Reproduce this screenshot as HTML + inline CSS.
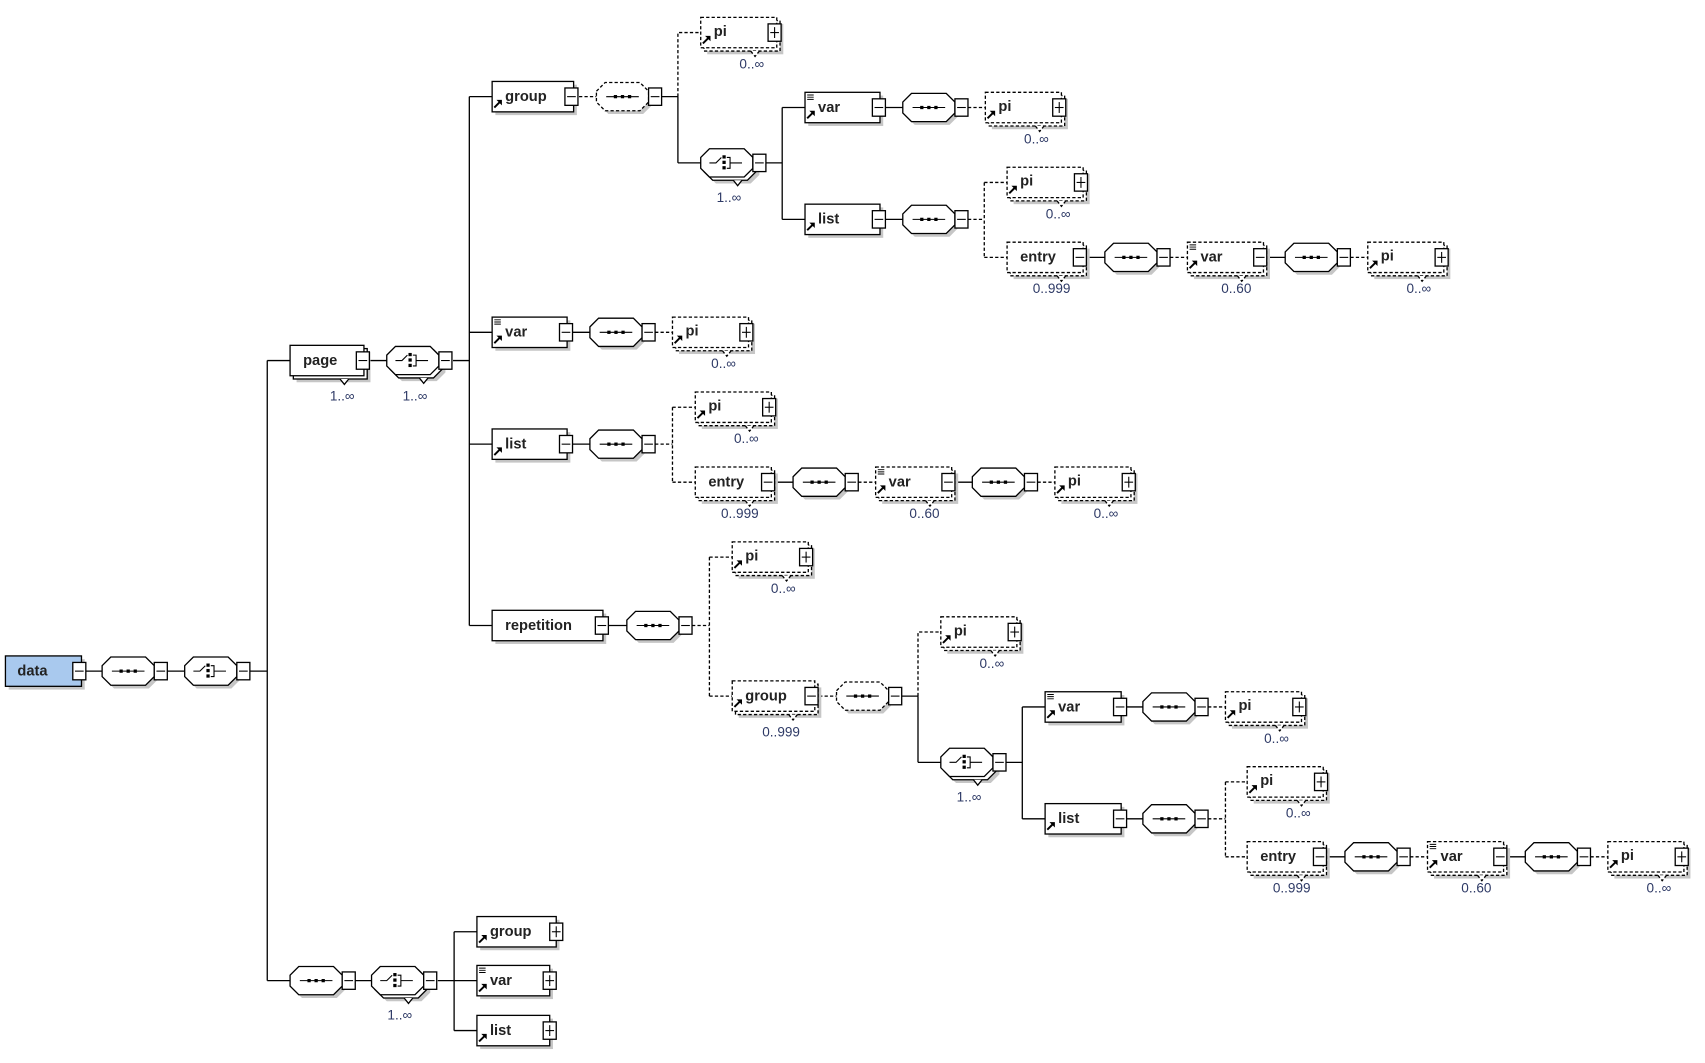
<!DOCTYPE html>
<html><head><meta charset="utf-8"><style>
html,body{margin:0;padding:0;background:#fff}
svg{display:block}
.s{fill:#fff;stroke:#000;stroke-width:1.2}
.d{fill:#fff;stroke:#000;stroke-width:1.2;stroke-dasharray:3 2}
.sh{fill:#c6c6c6}
.l{stroke:#000;stroke-width:1.2;fill:none}
.ld{stroke:#000;stroke-width:1.2;fill:none;stroke-dasharray:3 2}
.t{font-family:"Liberation Sans",sans-serif;font-weight:bold;font-size:13.5px;fill:#222}
.m{font-family:"Liberation Sans",sans-serif;font-size:12.5px;fill:#2e3a66;text-anchor:middle}
</style></head><body>
<svg width="1705" height="1063" viewBox="0 0 1560 972" preserveAspectRatio="none" xmlns="http://www.w3.org/2000/svg">
<defs>
<g id="mn"><rect class="s" width="12" height="16" stroke-width="1"/><line x1="2" y1="8" x2="10" y2="8" stroke="#000"/></g>
<g id="pl"><rect class="s" width="12" height="16" stroke-width="1"/><line x1="2" y1="8" x2="10" y2="8" stroke="#000"/><line x1="6" y1="3" x2="6" y2="13" stroke="#000"/></g>
<g id="ar"><path d="M0,8 L5,3" stroke="#000" stroke-width="1.8"/><path d="M2,1 L7,1 L7,6Z" fill="#000"/></g>
<g id="eq"><path d="M0,0.5h6M0,2.5h6M0,4.5h6" stroke="#000" stroke-width="0.9"/></g>
<g id="oct"><polygon class="sh" points="3,-2 11,-10 43,-10 51,-2 51,8 43,16 11,16 3,8"/><polygon class="s" points="0,-5 8,-13 40,-13 48,-5 48,5 40,13 8,13 0,5"/></g>
<g id="octd"><polygon class="sh" points="3,-2 11,-10 43,-10 51,-2 51,8 43,16 11,16 3,8"/><polygon class="d" points="0,-5 8,-13 40,-13 48,-5 48,5 40,13 8,13 0,5"/></g>
<g id="dots"><line x1="9" y1="0" x2="39" y2="0" stroke="#000"/><rect x="16" y="-1.5" width="3" height="3"/><rect x="22.5" y="-1.5" width="3" height="3"/><rect x="29" y="-1.5" width="3" height="3"/></g>
<g id="sq"><use href="#oct"/><use href="#dots"/><use href="#mn" x="48" y="-8"/></g>
<g id="sqd"><use href="#octd"/><use href="#dots"/><use href="#mn" x="48" y="-8"/></g>
<g id="chi"><path d="M8,0h6l5,-5M27,0h11M24,-5h3v10h-3" stroke="#000" fill="none"/><rect x="20" y="-7" width="3" height="3"/><rect x="20" y="-2" width="3" height="3"/><rect x="20" y="3" width="3" height="3"/></g>
<g id="ch"><use href="#oct"/><use href="#chi"/><use href="#mn" x="48" y="-8"/></g>
<g id="chm"><polygon class="sh" points="6,1 14,-7 46,-7 54,1 54,11 46,19 14,19 6,11"/><polygon class="s" points="3,-2 11,-10 43,-10 51,-2 51,8 43,16 11,16 3,8"/><path d="M30,16 l4,5 l4,-5" class="s"/><polygon class="s" points="0,-5 8,-13 40,-13 48,-5 48,5 40,13 8,13 0,5"/><use href="#chi"/><use href="#mn" x="48" y="-8"/></g>
<g id="ob70"><rect class="sh" x="6" y="-8" width="70" height="28"/><rect class="d" x="3" y="-11" width="70" height="28"/><path d="M46,17 l4,5 l4,-5" class="d"/><rect class="d" x="0" y="-14" width="70" height="28"/></g>
<g id="ob76"><rect class="sh" x="6" y="-8" width="76" height="28"/><rect class="d" x="3" y="-11" width="76" height="28"/><path d="M52,17 l4,5 l4,-5" class="d"/><rect class="d" x="0" y="-14" width="76" height="28"/></g>
<g id="pi"><use href="#ob70"/><use href="#ar" x="2" y="2"/><text class="t" x="12" y="3">pi</text><use href="#pl" x="62" y="-8"/><text class="m" x="47" y="33">0..∞</text></g>
<g id="entry"><use href="#ob70"/><text class="t" x="12" y="4">entry</text><use href="#mn" x="61" y="-8"/><text class="m" x="41" y="33">0..999</text></g>
<g id="vopt"><use href="#ob70"/><use href="#eq" x="2" y="-12"/><use href="#ar" x="2" y="2"/><text class="t" x="12" y="4">var</text><use href="#mn" x="61" y="-8"/><text class="m" x="45" y="33">0..60</text></g>
</defs>
<g transform="scale(0.994,0.993)">
<!-- connectors -->
<g class="l">
<path d="M79,618H94M154,618H170M230,618H246M246,332V903M246,332H267M246,903H267"/>
<path d="M341,332H356M417,332H432M432,89V576M432,89H453M432,306H453M432,409H453M432,576H453"/>
<path d="M608,89H624M624,89V150M624,150H645M705,150H720M720,99V202M720,99H741M720,202H741"/>
<path d="M815,99H831M815,202H831M1001,237H1017M1167,237H1183"/>
<path d="M527,306H543M527,409H543M714,444H730M880,444H895M560,576H577"/>
<path d="M829,641H845M845,641V702M845,702H866M925,702H941M941,651V754M941,651H962M941,754H962"/>
<path d="M1036,651H1052M1036,754H1052M1222,789H1238M1388,789H1404"/>
<path d="M327,903H342M403,903H418M418,858V949M418,858H439M418,903H439M418,949H439"/>
</g>
<g class="ld">
<path d="M533,89H549M624,89V30H645M891,99H907M891,202H906M906,168V237M906,168H927M906,237H927M1077,237H1093M1243,237H1259"/>
<path d="M603,306H619M603,409H619M619,375V444M619,375H640M619,444H640M790,444H806M955,444H971"/>
<path d="M637,576H653M653,513V641M653,513H674M653,641H674M754,641H770M845,641V582H866"/>
<path d="M1112,651H1128M1112,754H1128M1128,720V789M1128,720H1148M1128,789H1148M1298,789H1314M1464,789H1480"/>
</g>

<g transform="translate(5,618)"><rect class="sh" x="3" y="-11" width="70" height="28"/><rect x="0" y="-14" width="70" height="28" fill="#a9c9ee" stroke="#000" stroke-width="1.2"/><text class="t" x="11" y="4">data</text><use href="#mn" x="62" y="-8"/></g>
<use href="#sq" x="94" y="618"/>
<use href="#ch" x="170" y="618"/>

<g transform="translate(267,332)"><rect class="sh" x="6" y="-8" width="68" height="28"/><rect class="s" x="3" y="-11" width="68" height="28"/><path d="M46,17 l4,5 l4,-5" class="s"/><rect class="s" x="0" y="-14" width="68" height="28"/><text class="t" x="12" y="4">page</text><use href="#mn" x="61" y="-8"/><text class="m" x="48" y="37">1..∞</text></g>
<use href="#chm" x="356" y="332"/><text class="m" x="382" y="369">1..∞</text>

<g transform="translate(453,89)"><rect class="sh" x="3" y="-11" width="75" height="28"/><rect class="s" x="0" y="-14" width="75" height="28"/><use href="#ar" x="2" y="2"/><text class="t" x="12" y="4">group</text><use href="#mn" x="67" y="-8"/></g>
<use href="#sqd" x="549" y="89"/>
<use href="#pi" x="645" y="30"/>
<use href="#chm" x="645" y="150"/><text class="m" x="671" y="186">1..∞</text>
<g transform="translate(741,99)"><rect class="sh" x="3" y="-11" width="69" height="28"/><rect class="s" x="0" y="-14" width="69" height="28"/><use href="#eq" x="2" y="-12"/><use href="#ar" x="2" y="2"/><text class="t" x="12" y="4">var</text><use href="#mn" x="62" y="-8"/></g>
<use href="#sq" x="831" y="99"/>
<use href="#pi" x="907" y="99"/>
<g transform="translate(741,202)"><rect class="sh" x="3" y="-11" width="69" height="28"/><rect class="s" x="0" y="-14" width="69" height="28"/><use href="#ar" x="2" y="2"/><text class="t" x="12" y="4">list</text><use href="#mn" x="62" y="-8"/></g>
<use href="#sq" x="831" y="202"/>
<use href="#pi" x="927" y="168"/>
<use href="#entry" x="927" y="237"/>
<use href="#sq" x="1017" y="237"/>
<use href="#vopt" x="1093" y="237"/>
<use href="#sq" x="1183" y="237"/>
<use href="#pi" x="1259" y="237"/>

<g transform="translate(453,306)"><rect class="sh" x="3" y="-11" width="69" height="28"/><rect class="s" x="0" y="-14" width="69" height="28"/><use href="#eq" x="2" y="-12"/><use href="#ar" x="2" y="2"/><text class="t" x="12" y="4">var</text><use href="#mn" x="62" y="-8"/></g>
<use href="#sq" x="543" y="306"/>
<use href="#pi" x="619" y="306"/>

<g transform="translate(453,409)"><rect class="sh" x="3" y="-11" width="69" height="28"/><rect class="s" x="0" y="-14" width="69" height="28"/><use href="#ar" x="2" y="2"/><text class="t" x="12" y="4">list</text><use href="#mn" x="62" y="-8"/></g>
<use href="#sq" x="543" y="409"/>
<use href="#pi" x="640" y="375"/>
<use href="#entry" x="640" y="444"/>
<use href="#sq" x="730" y="444"/>
<use href="#vopt" x="806" y="444"/>
<use href="#sq" x="895" y="444"/>
<use href="#pi" x="971" y="444"/>

<g transform="translate(453,576)"><rect class="sh" x="3" y="-11" width="102" height="28"/><rect class="s" x="0" y="-14" width="102" height="28"/><text class="t" x="12" y="4">repetition</text><use href="#mn" x="95" y="-8"/></g>
<use href="#sq" x="577" y="576"/>
<use href="#pi" x="674" y="513"/>
<g transform="translate(674,641)"><use href="#ob76"/><use href="#ar" x="2" y="2"/><text class="t" x="12" y="4">group</text><use href="#mn" x="67" y="-8"/><text class="m" x="45" y="37">0..999</text></g>
<use href="#sqd" x="770" y="641"/>
<use href="#pi" x="866" y="582"/>
<use href="#chm" x="866" y="702"/><text class="m" x="892" y="738">1..∞</text>
<g transform="translate(962,651)"><rect class="sh" x="3" y="-11" width="70" height="28"/><rect class="s" x="0" y="-14" width="70" height="28"/><use href="#eq" x="2" y="-12"/><use href="#ar" x="2" y="2"/><text class="t" x="12" y="4">var</text><use href="#mn" x="63" y="-8"/></g>
<use href="#sq" x="1052" y="651"/>
<use href="#pi" x="1128" y="651"/>
<g transform="translate(962,754)"><rect class="sh" x="3" y="-11" width="70" height="28"/><rect class="s" x="0" y="-14" width="70" height="28"/><use href="#ar" x="2" y="2"/><text class="t" x="12" y="4">list</text><use href="#mn" x="63" y="-8"/></g>
<use href="#sq" x="1052" y="754"/>
<use href="#pi" x="1148" y="720"/>
<use href="#entry" x="1148" y="789"/>
<use href="#sq" x="1238" y="789"/>
<use href="#vopt" x="1314" y="789"/>
<use href="#sq" x="1404" y="789"/>
<use href="#pi" x="1480" y="789"/>

<use href="#sq" x="267" y="903"/>
<use href="#chm" x="342" y="903"/><text class="m" x="368" y="939">1..∞</text>
<g transform="translate(439,858)"><rect class="sh" x="3" y="-11" width="73" height="28"/><rect class="s" x="0" y="-14" width="73" height="28"/><use href="#ar" x="2" y="2"/><text class="t" x="12" y="4">group</text><use href="#pl" x="67" y="-8"/></g>
<g transform="translate(439,903)"><rect class="sh" x="3" y="-11" width="67" height="28"/><rect class="s" x="0" y="-14" width="67" height="28"/><use href="#eq" x="2" y="-12"/><use href="#ar" x="2" y="2"/><text class="t" x="12" y="4">var</text><use href="#pl" x="61" y="-8"/></g>
<g transform="translate(439,949)"><rect class="sh" x="3" y="-11" width="67" height="28"/><rect class="s" x="0" y="-14" width="67" height="28"/><use href="#ar" x="2" y="2"/><text class="t" x="12" y="4">list</text><use href="#pl" x="61" y="-8"/></g>
</g>
</svg>
</body></html>
